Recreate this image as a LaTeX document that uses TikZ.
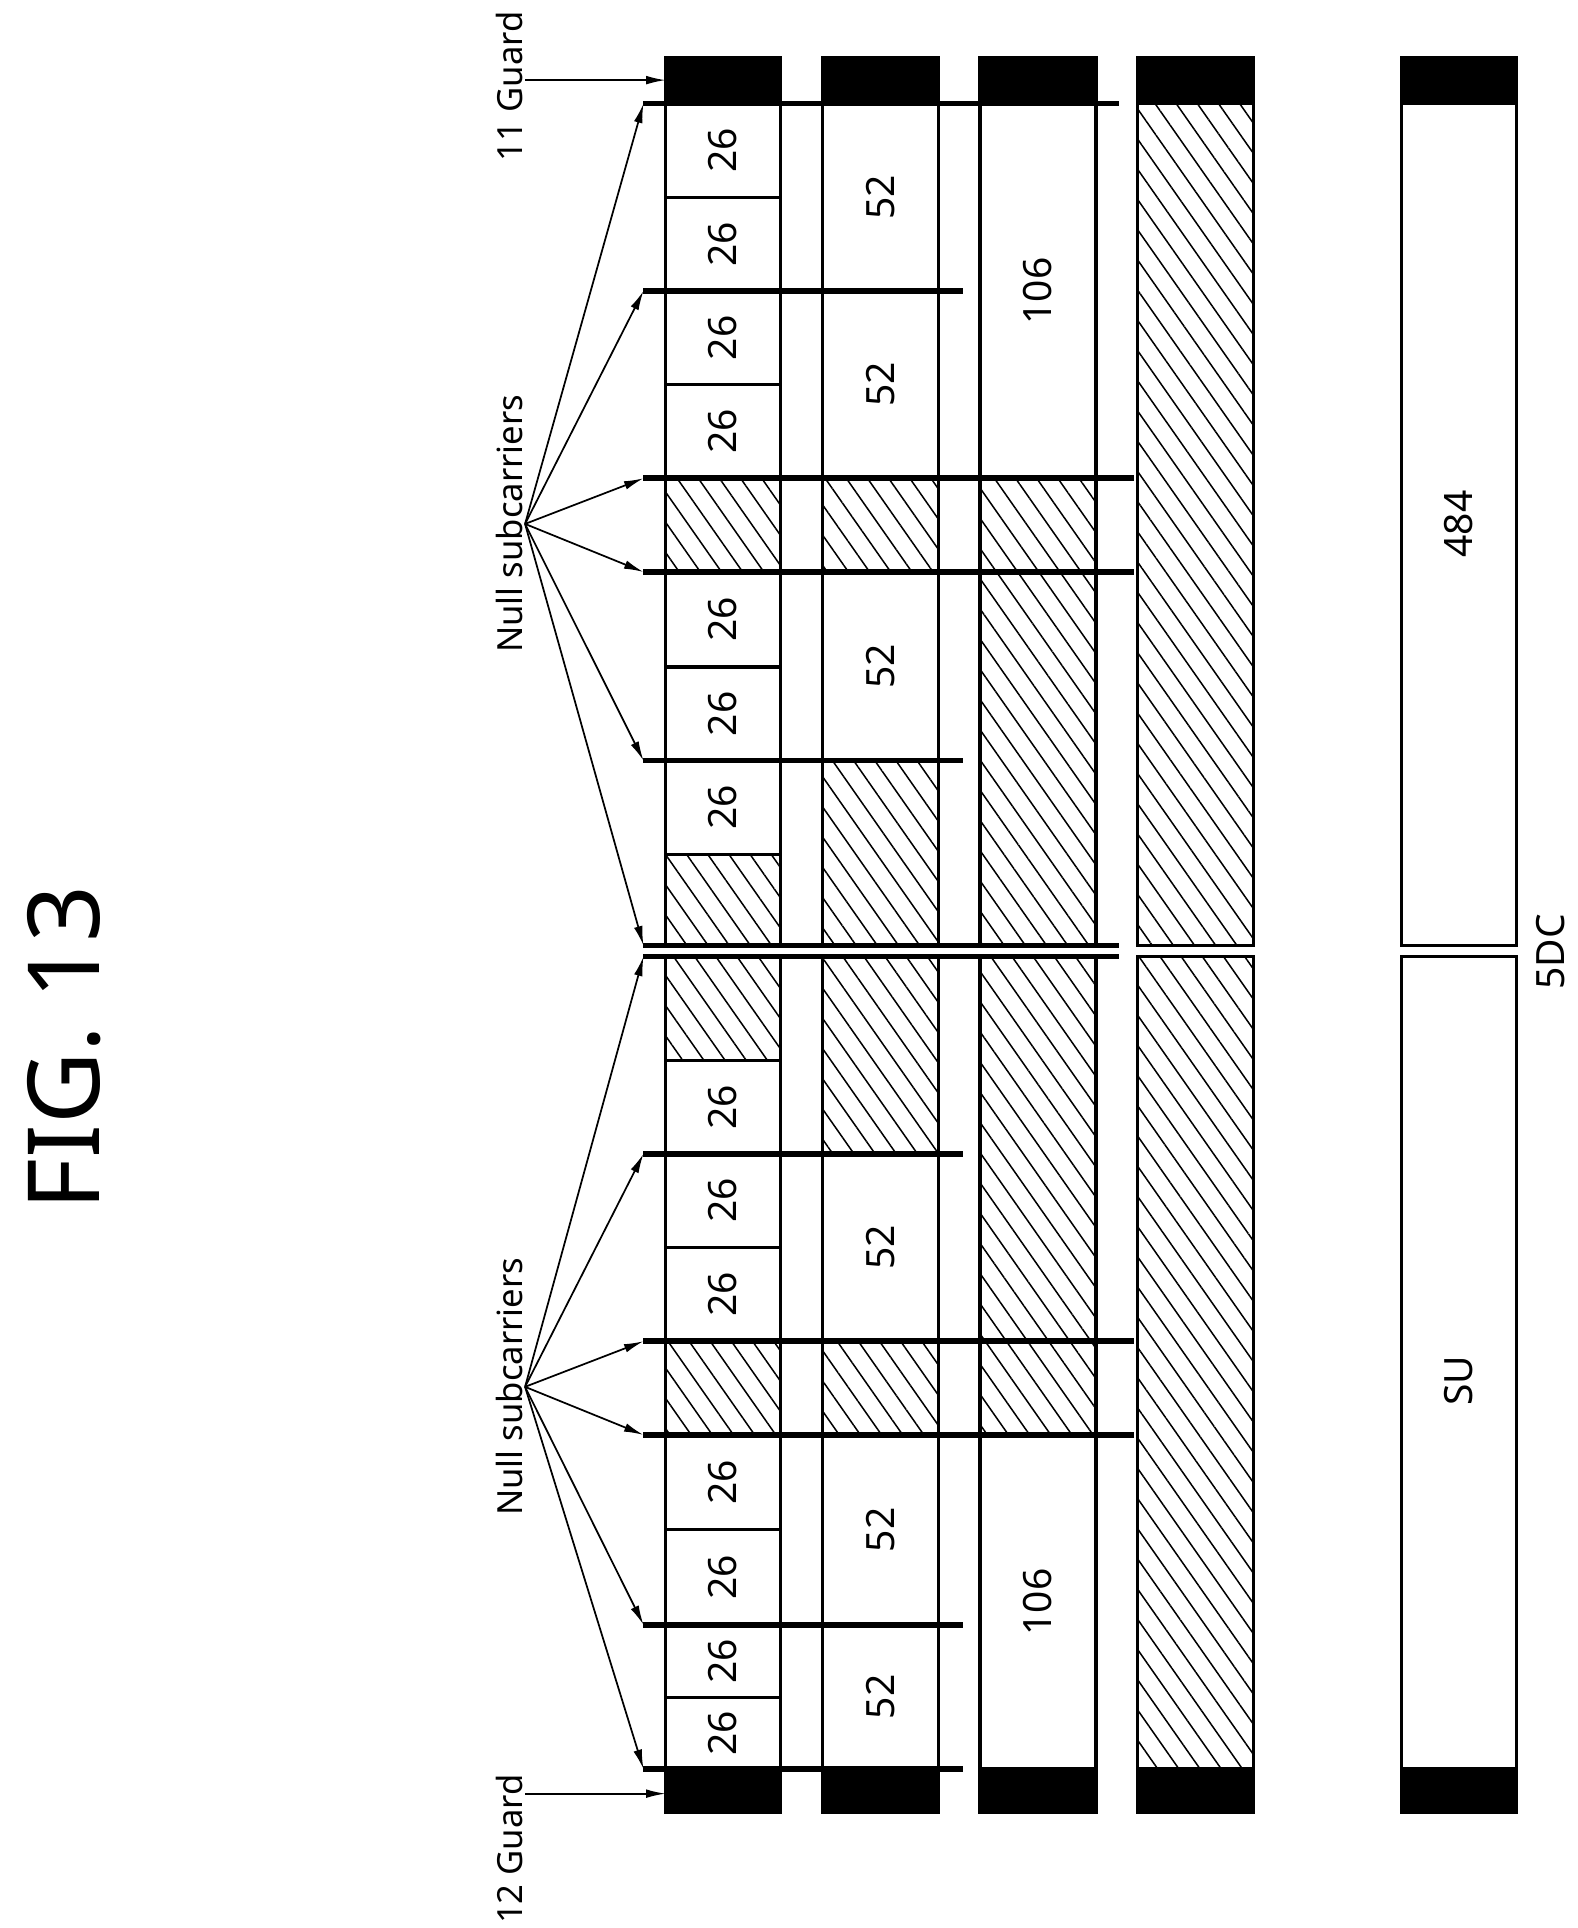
\documentclass[tikz,border=0pt]{standalone}
\usepackage{fontspec}
\setmainfont{Noto Sans}
\usetikzlibrary{patterns.meta,arrows.meta}
\newcommand\cellfont{\fontsize{18}{21}\selectfont}
\newcommand\notefont{\fontsize{16}{19}\selectfont}
\begin{document}
\begin{tikzpicture}
[
x=0.02cm,y=-0.02cm,
box/.style={draw,line width=1.5pt},
hatch/.style={box,pattern={Lines[angle=-55,distance=8pt,line width=0.7pt]}},
guard/.style={draw,fill=black,line width=1.5pt},
sep/.style={line width=2.6pt},
lbl/.style={rotate=90,font=\cellfont},
note/.style={rotate=90,font=\notefont,inner sep=1pt},
ptr/.style={-{Latex[length=9pt,width=4pt]},line width=0.8pt},
]
\useasboundingbox (0,0) rectangle (1280,1564);

%Title
\node[rotate=90,font=\fontsize{46}{50}\selectfont] (title) at (52,850) {FIG. 13};

%Guards
\foreach \l/\r in {540/633,667/761,795/889,923/1017,1137/1230}{
  \draw[guard] (\l,47) rectangle (\r,84);
  \draw[guard] (\l,1435) rectangle (\r,1470);
}

%Column of 26-tone units
\foreach \a/\b/\t in {84/160/26,160/236/26,236/312/26,312/388/26,464/541/26,541/617/26,617/693/26,
  860/936/26,936/1012/26,1012/1088/26,1164/1241/26,1241/1318/26,1318/1377/26,1377/1435/26}
  \draw[box] (540,\a) rectangle (633,\b) node[lbl] (u1-\a) at (586.5,{(\a+\b)/2}) {\t};
\foreach \a/\b in {388/464,693/767,776/860,1088/1164}
  \draw[hatch] (540,\a) rectangle (633,\b);

%Column of 52-tone units
\foreach \a/\b/\t in {84/236/52,236/388/52,464/617/52,936/1088/52,1164/1318/52,1318/1435/52}
  \draw[box] (667,\a) rectangle (761,\b) node[lbl] (u2-\a) at (714,{(\a+\b)/2}) {\t};
\foreach \a/\b in {388/464,617/767,776/936,1088/1164}
  \draw[hatch] (667,\a) rectangle (761,\b);

%Column of 106-tone units
\foreach \a/\b/\t in {84/388/106,1164/1435/106}
  \draw[box] (795,\a) rectangle (889,\b) node[lbl] (u3-\a) at (842,{(\a+\b)/2}) {\t};
\foreach \a/\b in {388/767,776/1164}
  \draw[hatch] (795,\a) rectangle (889,\b);

%Column of 242-tone units
\foreach \a/\b in {84/767,776/1435}
  \draw[hatch] (923,\a) rectangle (1017,\b);

%Full band
\draw[box] (1137,84) rectangle (1230,767);
\draw[box] (1137,776) rectangle (1230,1435);
\node[lbl] (u5a) at (1183.5,425) {484};
\node[lbl] (u5b) at (1183.5,1120) {SU};
\node[note,font=\cellfont] (dc) at (1258,772) {5DC};

%Null subcarrier boundaries
\foreach \y/\e in {84/908,236/781,388/920,464/920,617/781,767/908,
  776/908,936/781,1088/920,1164/920,1318/781,1435/781}
  \draw[sep] (522,\y) coordinate (s\y) -- (\e,\y);

%Labels and pointers
\node[note] (g11) at (413,70) {11 Guard};
\node[note] (g12) at (413,1500) {12 Guard};
\node[note] (null1) at (413,425) {Null subcarriers};
\node[note] (null2) at (413,1125) {Null subcarriers};
\coordinate (g11t) at (540,65);
\coordinate (g12t) at (540,1455);
\draw[ptr] (g11.south |- g11t) -- (g11t);
\draw[ptr] (g12.south |- g12t) -- (g12t);
\foreach \y in {84,236,388,464,617,767}
  \draw[ptr] (null1.south) -- (s\y);
\foreach \y in {776,936,1088,1164,1318,1435}
  \draw[ptr] (null2.south) -- (s\y);
\end{tikzpicture}
\end{document}
